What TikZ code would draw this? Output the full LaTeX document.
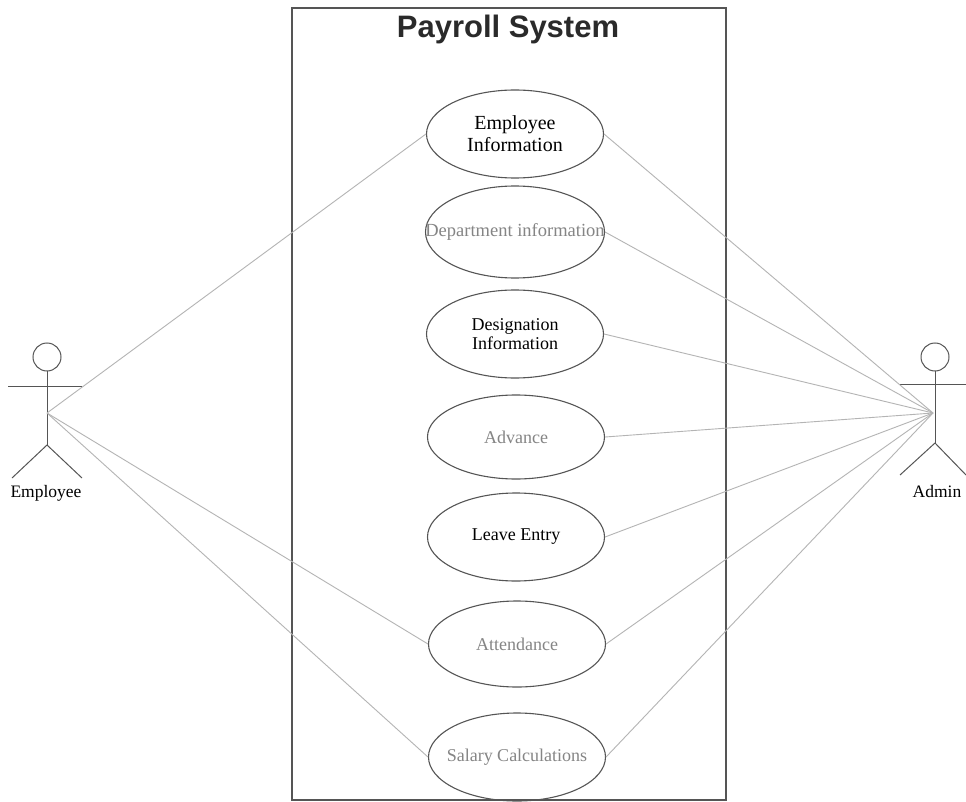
\documentclass[tikz,border=0pt]{standalone}
\usepackage{fontspec}
\setmainfont{Liberation Serif}
\newfontfamily\titlefont{Liberation Sans}
\usetikzlibrary{shapes.geometric}
\definecolor{linegray}{HTML}{B4B4B4}
\definecolor{edgegray}{HTML}{555555}
\definecolor{txtgray}{HTML}{858585}
\definecolor{titlegray}{HTML}{2A2A2A}
\begin{document}
\begin{tikzpicture}[x=1pt,y=-1pt,
  usecase/.style={ellipse, draw=edgegray, line width=1.1pt, minimum width=177pt, minimum height=88pt, inner sep=0pt, align=center, font=\fontsize{18}{19}\selectfont},
  graytext/.style={text=txtgray},
  assoc/.style={draw=linegray, line width=0.9pt},
  actorline/.style={draw=edgegray, line width=1pt},
  actorlabel/.style={font=\fontsize{17.5}{18}\selectfont, inner sep=0pt}]
\useasboundingbox (0,0) rectangle (966,802);
\fill[white] (0,0) rectangle (966,802);
% system boundary
\draw[edgegray, line width=1.1pt] (292,8) rectangle (726,800);
\node[font=\titlefont\bfseries\fontsize{31}{32}\selectfont, text=titlegray, inner sep=0pt] (title) at (508,29) {Payroll System};
% use cases
\node[usecase, font=\fontsize{20}{22}\selectfont] (ei) at (515,134) {Employee\\Information};
\node[usecase, graytext, minimum width=179pt, minimum height=92pt, font=\fontsize{18.5}{20}\selectfont] (dept) at (515,232) {\makebox[0pt]{Department information}};
\node[usecase] (desig) at (515,334) {Designation\\Information};
\node[usecase, graytext, minimum height=84pt] (adv) at (516,437) {Advance};
\node[usecase] (leave) at (516,537) {Leave Entry};
\node[usecase, graytext, minimum height=86pt] (att) at (517,644) {Attendance};
\node[usecase, graytext] (sal) at (517,757) {\makebox[0pt]{Salary Calculations}};
% actor Employee
\draw[actorline] (47,357) circle (14);
\draw[actorline] (8,386) -- (82,386);
\draw[actorline] (47,371) -- (47,445);
\draw[actorline] (12,478) -- (47,445) -- (82,478);
\coordinate (emp) at (47,413);
\node[actorlabel] (emplabel) at (46,493) {Employee};
% actor Admin
\draw[actorline] (935,357) circle (14);
\draw[actorline] (900,384) -- (966,384);
\draw[actorline] (935,371) -- (935,443);
\draw[actorline] (900,475) -- (935,443) -- (966,475);
\coordinate (adm) at (933,413);
\node[actorlabel] (admlabel) at (937,492) {Admin};
% associations
\draw[assoc] (emp) -- (ei.west);
\draw[assoc] (emp) -- (att.west);
\draw[assoc] (emp) -- (sal.west);
\foreach \u in {ei,dept,desig,adv,leave,att,sal}
  \draw[assoc] (adm) -- (\u.east);
\end{tikzpicture}
\end{document}
